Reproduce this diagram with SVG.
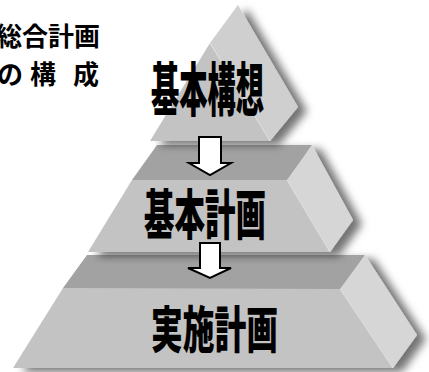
<svg xmlns="http://www.w3.org/2000/svg" width="429" height="372" viewBox="0 0 429 372">
<defs>
<filter id="sh" x="-20%" y="-20%" width="150%" height="150%">
<feDropShadow dx="9" dy="4" stdDeviation="4.5" flood-color="#000" flood-opacity="0.55"/>
</filter>
<style>
.front{fill:#c3c3c3}
.band{fill:#a2a2a2}
.side{fill:#d6d6d6}
.ridge{fill:none;stroke:#e2e2e2;stroke-width:1}
.lbl{font-family:"Noto Sans CJK JP","Noto Sans CJK SC",sans-serif;font-weight:900;fill:#000}
.title{font-family:"Noto Sans CJK JP","Noto Sans CJK SC",sans-serif;font-weight:700;font-size:26px;fill:#000}
.arrow{fill:#fff;stroke:#000;stroke-width:2;stroke-linejoin:miter}
</style>
</defs>
<rect width="429" height="372" fill="#fff"/>

<g id="title">
<text class="title" x="-4" y="46">総合計画</text>
<text class="title" x="-3 23 30 56 73" y="84">の 構 成</text>
</g>

<g id="tier-jisshi">
<g filter="url(#sh)">
<polygon class="band" points="87,255 365,255 340,289 63,288"/>
<polygon class="side" points="365,255 417,335 393,368 340,289"/>
<polygon class="front" points="63,288 340,289 393,368 13,368"/>
</g>
<line class="ridge" x1="340" y1="289" x2="393" y2="368"/>
<text class="lbl" x="151" y="348" font-size="50" textLength="127" lengthAdjust="spacingAndGlyphs">実施計画</text>
</g>

<g id="tier-kihonkeikaku">
<g filter="url(#sh)">
<polygon class="band" points="157,145 312,145 287,180 132,180"/>
<polygon class="side" points="312,145 353,220 330,252 287,180"/>
<polygon class="front" points="132,180 287,180 330,252 88,252"/>
</g>
<line class="ridge" x1="287" y1="180" x2="330" y2="252"/>
<text class="lbl" x="144" y="235" font-size="54" textLength="122" lengthAdjust="spacingAndGlyphs">基本計画</text>
</g>

<g id="tier-kihonkousou">
<g filter="url(#sh)">
<polygon fill="#cfcfcf" points="238,5 298,107 270,141 210,43"/>
<polygon class="front" points="210,43 150,141 270,141"/>
</g>
<line class="ridge" x1="210" y1="43" x2="270" y2="141"/>
<text class="lbl" x="151" y="111" font-size="58" textLength="113" lengthAdjust="spacingAndGlyphs">基本構想</text>
</g>

<g id="connectors">
<path class="arrow" d="M199,137 H221 V163 H231 L210,175 L189,163 H199 Z"/>
<path class="arrow" d="M200,243 H220 V268 H231 L210,278 L188,268 H200 Z"/>
</g>
</svg>
